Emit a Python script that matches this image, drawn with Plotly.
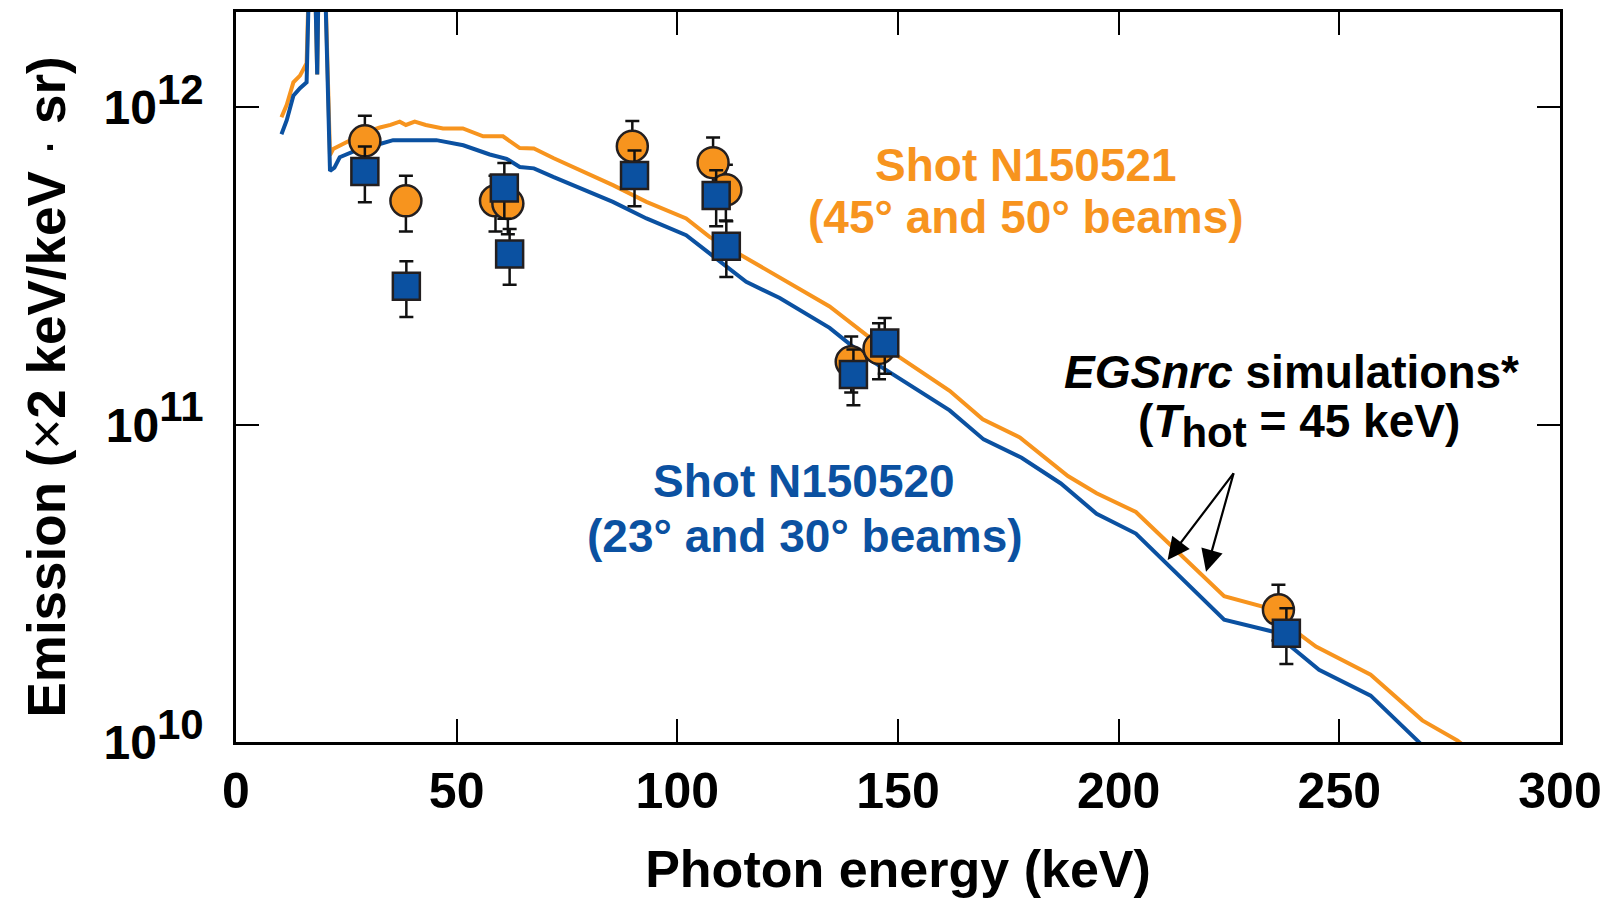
import plotly.graph_objects as go

# ---- simulated spectra (EGSnrc) ----
sim_orange_x = [10.3, 11.5, 13.0, 14.5, 16.0, 16.9, 17.6, 18.4, 18.9, 19.8, 21.3, 22.0, 25.8, 29.0,
                32.6, 35.0, 37.1, 38.5, 40.5, 43.0, 46.9, 51.4, 56.0, 60.5, 64.3, 67.5, 72.0, 78.0,
                85.4, 93.0, 102.0, 107.3, 115.6, 123.2, 134.5, 142.8, 161.7, 169.2, 177.6, 188.5,
                195.0, 203.9, 223.9, 232.6, 244.7, 257.1, 268.8, 276.8, 280.0]
sim_orange_y = [9.31e11, 1.02e12, 1.20e12, 1.26e12, 1.38e12, 4e12, 4e12, 1.27e12, 4e12, 4e12, 7.08e11,
                7.40e11, 7.87e11, 8.32e11, 8.65e11, 8.81e11, 9.02e11, 8.81e11, 9.02e11, 8.81e11,
                8.59e11, 8.59e11, 8.11e11, 8.11e11, 7.45e11, 7.43e11, 6.92e11, 6.34e11, 5.69e11,
                5.04e11, 4.47e11, 3.91e11, 3.35e11, 2.93e11, 2.36e11, 1.92e11, 1.28e11, 1.04e11,
                9.12e10, 6.89e10, 6.08e10, 5.31e10, 2.88e10, 2.67e10, 2.00e10, 1.63e10, 1.17e10,
                1.01e10, 9.3e9]

sim_blue_x = [10.3, 11.5, 13.0, 14.5, 16.0, 16.9, 17.6, 18.4, 18.9, 19.8, 21.3, 22.3, 23.5, 28.0,
              32.6, 35.6, 45.4, 51.5, 57.5, 61.3, 64.3, 67.5, 72.0, 78.0, 85.4, 93.0, 102.0, 107.3,
              115.6, 123.2, 134.5, 142.8, 161.7, 169.4, 178.0, 186.9, 195.0, 203.9, 223.9, 234.9,
              245.4, 257.1, 268.1, 270.0]
sim_blue_y = [8.24e11, 9.12e11, 1.09e12, 1.15e12, 1.20e12, 4e12, 4e12, 1.27e12, 4e12, 4e12, 6.31e11,
              6.46e11, 6.97e11, 7.41e11, 7.67e11, 7.89e11, 7.89e11, 7.60e11, 7.11e11, 6.89e11,
              6.49e11, 6.43e11, 6.03e11, 5.55e11, 5.04e11, 4.47e11, 3.96e11, 3.47e11, 2.82e11,
              2.51e11, 2.02e11, 1.63e11, 1.11e11, 8.99e10, 7.87e10, 6.53e10, 5.24e10, 4.54e10,
              2.43e10, 2.23e10, 1.69e10, 1.40e10, 9.98e9, 9.3e9]

# ---- measured points ----
n150521_x = [29.2, 38.5, 58.8, 61.6, 89.8, 108.1, 111.0, 139.4, 145.7, 236.2]
n150521_y = [7.85e11, 5.08e11, 5.08e11, 4.98e11, 7.55e11, 6.70e11, 5.50e11, 1.58e11, 1.74e11, 2.61e10]
n150520_x = [29.2, 38.6, 60.8, 62.0, 90.3, 108.8, 111.1, 139.9, 147.0, 238.0]
n150520_y = [6.28e11, 2.73e11, 5.57e11, 3.45e11, 6.10e11, 5.28e11, 3.65e11, 1.44e11, 1.81e11, 2.20e10]
err_percent = 20

x_ticks = [0, 50, 100, 150, 200, 250, 300]
y_ticks = [1e10, 1e11, 1e12]
y_ticktext = ["10<sup><span style='font-size:42px'>10</span></sup>",
              "10<sup><span style='font-size:42px'>11</span></sup>",
              "10<sup><span style='font-size:42px'>12</span></sup>"]

ORANGE = "#F7941E"
BLUE = "#0B51A1"
FONT = "Liberation Sans"

fig = go.Figure()
fig.add_trace(go.Scatter(x=sim_orange_x, y=sim_orange_y, mode="lines",
                         line=dict(color=ORANGE, width=4), hoverinfo="skip"))
fig.add_trace(go.Scatter(x=sim_blue_x, y=sim_blue_y, mode="lines",
                         line=dict(color=BLUE, width=4), hoverinfo="skip"))
fig.add_trace(go.Scatter(x=n150521_x, y=n150521_y, mode="markers",
                         marker=dict(symbol="circle", size=31, color=ORANGE,
                                     line=dict(color="#231F20", width=2.5)),
                         error_y=dict(type="percent", value=err_percent, color="#111111",
                                      thickness=2.5, width=7)))
fig.add_trace(go.Scatter(x=n150520_x, y=n150520_y, mode="markers",
                         marker=dict(symbol="square", size=27, color=BLUE,
                                     line=dict(color="#231F20", width=2.5)),
                         error_y=dict(type="percent", value=err_percent, color="#111111",
                                      thickness=2.5, width=7)))

axis_common = dict(showline=True, linecolor="black", linewidth=2.5, mirror="ticks",
                   ticks="inside", ticklen=23, tickwidth=2, tickcolor="black",
                   showgrid=False, zeroline=False)

fig.update_xaxes(range=[0, 300], tickvals=x_ticks, ticktext=[str(v) for v in x_ticks],
                 tickfont=dict(family=FONT, size=50, color="black", weight="bold"),
                 ticklabelstandoff=3,
                 title=dict(text="Photon energy (keV)",
                            font=dict(family=FONT, size=52, color="black", weight="bold"),
                            standoff=33),
                 **axis_common)
fig.update_yaxes(type="log", range=[10, 12.301], tickvals=y_ticks, ticktext=y_ticktext,
                 tickfont=dict(family=FONT, size=48, color="black", weight="bold"),
                 ticklabelstandoff=20,
                 **axis_common)

W, H = 1611, 898
L, R, T, B = 236, 50, 9, 156
pw, ph = W - L - R, H - T - B
def px(xp, yp):
    return (xp - L) / pw, 1 - (yp - T) / ph

# y-axis title as a rotated annotation (placed as in the reference)
yt_x, yt_y = px(46, 386)
fig.add_annotation(x=yt_x, y=yt_y, xref="paper", yref="paper", textangle=-90, showarrow=False,
                   xanchor="center", yanchor="middle",
                   text="Emission (<span style='font-weight:normal'>×</span>2 keV/keV <span style='font-weight:normal'>·</span> sr)",
                   font=dict(family=FONT, size=53, color="black", weight="bold"))

def txt(x, y, text, color, size=46):
    fig.add_annotation(x=x, y=y, xref="paper", yref="paper", text=text, showarrow=False,
                       xanchor="center", yanchor="middle",
                       font=dict(family=FONT, size=size, color=color, weight="bold"))

txt(*px(1027, 163), "Shot N150521", ORANGE)
txt(*px(1027, 215), "(45° and 50° beams)", ORANGE)
txt(*px(804, 480), "Shot N150520", BLUE)
txt(*px(805, 535), "(23° and 30° beams)", BLUE)
txt(*px(1292, 370), "<i>EGSnrc</i> simulations*", "black")
txt(*px(1300, 424), "(<i>T</i><sub><span style='font-size:42px'>hot</span></sub> = 45 keV)", "black")

# arrows (head on the curves, tail under the label)
for hx, hy, ax, ay in [(211.1, 10.574, 67, -88), (219.8, 10.537, 28, -100)]:
    fig.add_annotation(x=hx, y=hy, xref="x", yref="y", ax=ax, ay=ay, axref="pixel", ayref="pixel",
                       text="", showarrow=True, arrowhead=2, arrowsize=2, arrowwidth=2.2,
                       arrowcolor="black", standoff=0)

fig.update_layout(width=W, height=H, margin=dict(l=L, r=R, t=T, b=B),
                  plot_bgcolor="white", paper_bgcolor="white", showlegend=False,
                  font=dict(family=FONT, color="black"))

fig.write_html("out.html")
